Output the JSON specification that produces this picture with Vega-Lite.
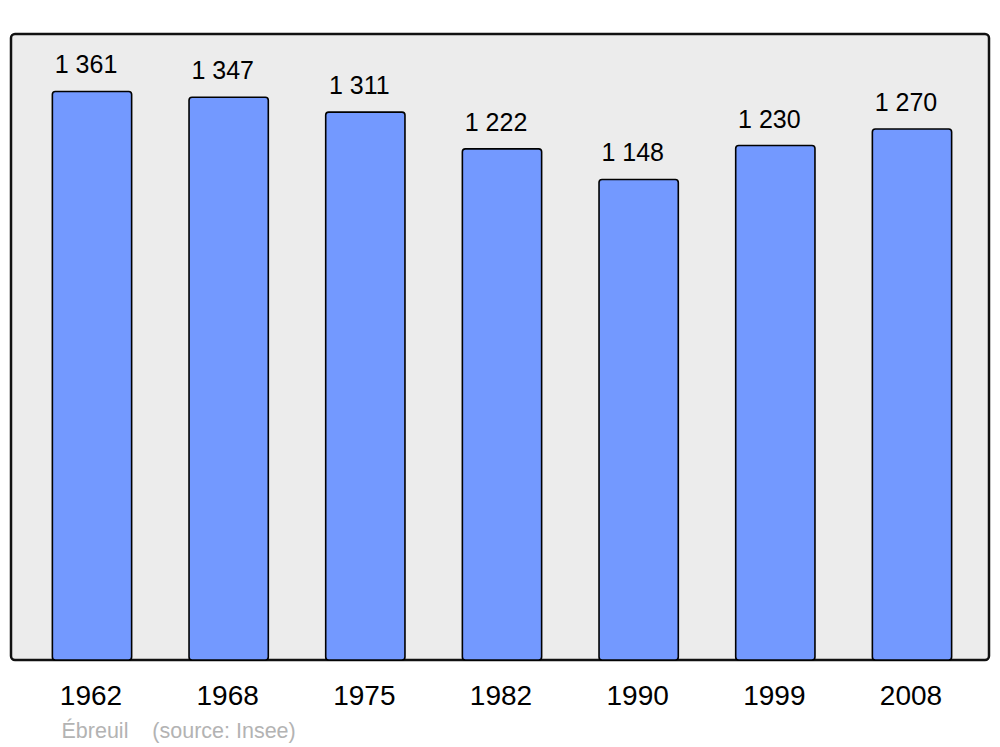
{
  "$schema": "https://vega.github.io/schema/vega-lite/v6.json",
  "width": 978,
  "height": 626,
  "autosize": {"type": "none"},
  "padding": {"left": 11, "top": 34, "right": 11, "bottom": 87},
  "background": "white",
  "config": {
    "locale": {"number": {"decimal": ",", "thousands": " ", "grouping": [3], "currency": ["", " €"]}},
    "view": {"fill": "#ececec", "stroke": "#111111", "strokeWidth": 2.5, "cornerRadius": 4},
    "font": "Liberation Sans"
  },
  "data": {
    "values": [
      {"year": "1962", "pop": 1361},
      {"year": "1968", "pop": 1347},
      {"year": "1975", "pop": 1311},
      {"year": "1982", "pop": 1222},
      {"year": "1990", "pop": 1148},
      {"year": "1999", "pop": 1230},
      {"year": "2008", "pop": 1270}
    ]
  },
  "encoding": {
    "x": {
      "field": "year",
      "type": "ordinal",
      "sort": null,
      "scale": {"range": [12.67, 969.33], "paddingInner": 0.42, "paddingOuter": 0.21},
      "axis": {
        "title": "Ébreuil\u00a0\u00a0\u00a0\u00a0(source: Insee)",
        "titleFont": "Liberation Sans",
        "titleFontSize": 21.5,
        "titleFontWeight": "normal",
        "titleColor": "#b3b3b3",
        "titleAnchor": "start",
        "titleAlign": "left",
        "titleBaseline": "alphabetic",
        "titleX": 50,
        "titleY": 77,
        "domain": false,
        "ticks": false,
        "labelAngle": 0,
        "labelFont": "Liberation Sans",
        "labelFontSize": 28,
        "labelColor": "#000000",
        "labelBaseline": "alphabetic",
        "labelPadding": 44,
        "labelOffset": -1
      }
    }
  },
  "layer": [
    {
      "mark": {"type": "bar", "fill": "#7399ff", "stroke": "#000000", "strokeWidth": 1.6, "cornerRadius": 3},
      "encoding": {
        "y": {"field": "pop", "type": "quantitative", "scale": {"domain": [-15, 1500], "nice": false, "zero": false}, "axis": null},
        "y2": {"datum": -15}
      }
    },
    {
      "mark": {"type": "text", "baseline": "alphabetic", "dy": -18, "dx": -6, "fontSize": 25, "font": "Liberation Sans", "color": "#000000"},
      "encoding": {
        "y": {"field": "pop", "type": "quantitative"},
        "text": {"field": "pop", "type": "quantitative", "format": ",d"}
      }
    }
  ]
}
